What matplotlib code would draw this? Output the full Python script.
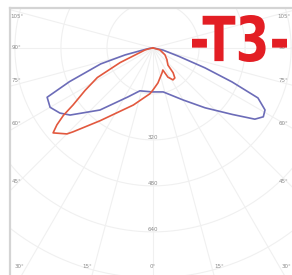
import numpy as np
import matplotlib.pyplot as plt
from matplotlib.textpath import TextPath
from matplotlib.patches import PathPatch
from matplotlib.font_manager import FontProperties
from matplotlib.transforms import Affine2D

# polar light distribution, angles in degrees from nadir (neg = left), intensity in cd
blue_ang = [-90, -82, -78, -76, -73, -68, -65, -60, -55, -51, -40.5, -27, -17, -1,
            13, 30, 41, 50, 55, 58, 61, 64.5, 66.7, 69, 72, 78, 85, 90]
blue_cd = [0, 15, 40, 100, 190, 313, 406, 413, 395, 371, 284, 191, 156, 153,
           157, 209, 276, 360, 432, 452, 445, 404, 299, 194, 94, 35, 0, 0]

red_ang = [-90, -80, -76, -66, -62, -58, -54.5, -53, -51.3, -49.6, -45, -43.6, -36,
           -19, -4, 0, 8, 20, 24, 27, 32, 36, 39, 41, 50, 60, 74, 90]
red_cd = [0, 10, 28, 125, 219, 278, 341, 390, 428, 456, 423, 403, 313,
          210, 160, 146, 123, 92, 84, 114, 131, 129, 111, 79, 63, 48, 25, 0]

rings = [160, 320, 480, 640, 800]
ring_labels = ['320', '480', '640']
ray_angles = [-105, -90, -75, -60, -45, -30, -15, 0, 15, 30, 45, 60, 75, 90, 105]
title = '-T3-'

grid_col = '#f0f0f0'
lbl_col = '#8a8a8a'


def to_xy(ang, cd):
    a = np.deg2rad(np.asarray(ang, dtype=float))
    r = np.asarray(cd, dtype=float)
    return r * np.sin(a), -r * np.cos(a)


W, H = 292, 275
fig = plt.figure(figsize=(W / 100, H / 100), dpi=100)
ax = fig.add_axes([10 / W, 0, 282 / W, 267 / H])
ax.set_xlim(-497, 483)
ax.set_ylim(-790, 139)
ax.set_xticks([])
ax.set_yticks([])
for s in ['right', 'bottom']:
    ax.spines[s].set_visible(False)
for s in ['top', 'left']:
    ax.spines[s].set_color('#d4d4d4')
    ax.spines[s].set_linewidth(1.6)

# grid
t = np.linspace(0, 2 * np.pi, 400)
for r in rings:
    ax.plot(r * np.cos(t), r * np.sin(t), color=grid_col, lw=0.8, zorder=1)
for a in ray_angles:
    x, y = to_xy([a, a], [0, 1200])
    ax.plot(x, y, color=grid_col, lw=0.8, zorder=1)

# radial labels
for lab in ring_labels:
    ax.text(0, -float(lab) + 10, lab, fontsize=4, color=lbl_col,
            ha='center', va='center', zorder=2)

# angle labels round the frame
for a in ray_angles:
    rad = np.deg2rad(abs(a))
    side = np.sign(a)
    if abs(a) >= 45:
        x = -473 if side < 0 else 455
        y = -480 * np.cos(rad) / np.sin(rad)
        if abs(a) > 90:
            y -= 20
        elif abs(a) < 90:
            y += 15
    else:
        x = 760 * np.tan(rad) * side + side * 25
        y = -760
    ax.text(x, y, '%d°' % abs(a), fontsize=4, color=lbl_col,
            ha='center', va='center', zorder=2)

bx, by = to_xy(blue_ang, blue_cd)
ax.plot(bx, by, color='#6c6cb8', lw=1.2, zorder=3, solid_joinstyle='round')
rx, ry = to_xy(red_ang, red_cd)
ax.plot(rx, ry, color='#e2583e', lw=1.2, zorder=4, solid_joinstyle='round')

# condensed red title, squeezed into its box (pixels)
tp = TextPath((0, 0), title, size=1,
              prop=FontProperties(family='DejaVu Sans', weight='bold'))
ext = tp.get_extents()
x0, x1, ytop, ybot = 192, 287, 15, 62
sx = (x1 - x0) / ext.width
sy = (ybot - ytop) / ext.height
tr = (Affine2D().translate(-ext.x0, -ext.y0).scale(sx, sy)
      .translate(x0, H - ybot).scale(1 / W, 1 / H) + fig.transFigure)
fig.patches.append(PathPatch(tp, transform=tr, color='#e31e24', lw=0))

fig.savefig('out.png', dpi=100, facecolor='white')
